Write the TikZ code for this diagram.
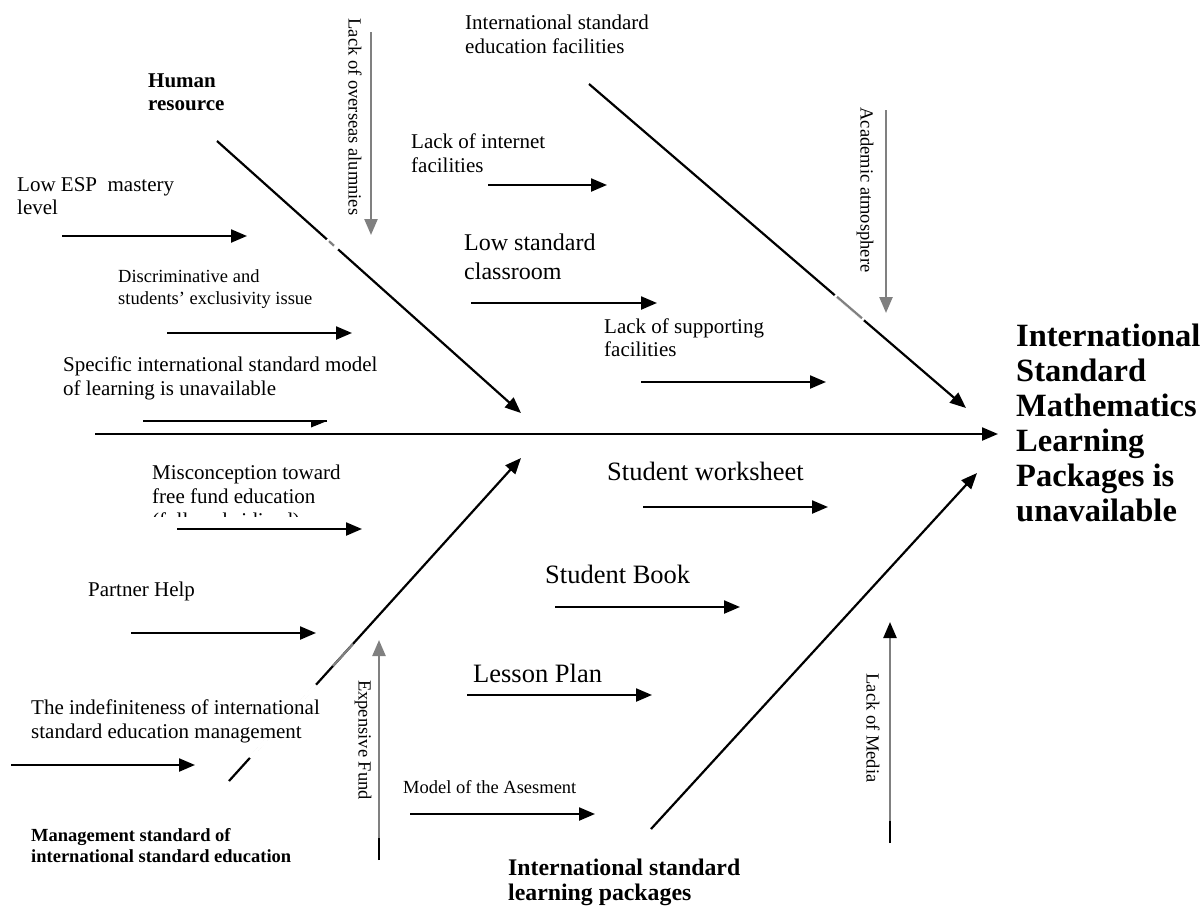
\documentclass[tikz,border=0pt]{standalone}
\usepackage{fontspec}
\setmainfont{Liberation Serif}
\usetikzlibrary{arrows.meta}
\definecolor{gr}{RGB}{128,128,128}
\newcommand\fA{\fontsize{21}{23.5}\selectfont}
\newcommand\fS{\fontsize{18.5}{22}\selectfont}
\newcommand\fL{\fontsize{26.5}{30}\selectfont}
\newcommand\fE{\fontsize{32.5}{35}\selectfont\bfseries}
\tikzset{
  lab/.style={anchor=base west, inner sep=0pt, align=left},
  vlab/.style={inner sep=0pt, rotate=-90, font=\fS},
  arr/.style={line width=2.2pt, -{Triangle[length=16pt,width=13pt]}},
  bone/.style={line width=2.2pt},
  garr/.style={line width=2.4pt, gr, -{Triangle[length=16pt,width=13pt]}},
  gapw/.style={line width=3.4pt, white},
  gapg/.style={line width=2.2pt, gr}
}
\begin{document}
\begin{tikzpicture}[x=1pt,y=-1pt]
\useasboundingbox (0,0) rectangle (1202,906);
% ---------- spine ----------
\coordinate (s0) at (95,434); \coordinate (s1) at (998,434);
\draw[arr] (s0) -- (s1);
% ---------- main bones ----------
\coordinate (hr0) at (217,141); \coordinate (hr1) at (521,413);
\draw[arr] (hr0) -- (hr1);
\coordinate (hrw0) at (327,239.4); \coordinate (hrw1) at (338,249.3);
\draw[gapw] (hrw0) -- (hrw1);
\coordinate (hrg0) at (329,241.2); \coordinate (hrg1) at (334,245.7);
\draw[gapg] (hrg0) -- (hrg1);

\coordinate (fa0) at (589,84); \coordinate (fa1) at (966,408);
\draw[arr] (fa0) -- (fa1);
\coordinate (faw0) at (835,295.1); \coordinate (faw1) at (864,320);
\draw[gapw] (faw0) -- (faw1);
\coordinate (fag0) at (837,296.8); \coordinate (fag1) at (862,318.2);
\draw[gapg] (fag0) -- (fag1);

\coordinate (mg0) at (229,781); \coordinate (mg1) at (521,458);
\draw[arr] (mg0) -- (mg1);
\coordinate (mgw0) at (250,757.8); \coordinate (mgw1) at (316,684.8);
\draw[gapw] (mgw0) -- (mgw1);
\coordinate (mgg0) at (333,666); \coordinate (mgg1) at (353,643.9);
\draw[gapg] (mgg0) -- (mgg1);

\coordinate (lp0) at (651,829); \coordinate (lp1) at (977,473);
\draw[arr] (lp0) -- (lp1);
% ---------- small horizontal arrows ----------
\coordinate (a1) at (62,236);  \coordinate (b1) at (247,236);  \draw[arr] (a1) -- (b1);
\coordinate (a2) at (167,333); \coordinate (b2) at (352,333);  \draw[arr] (a2) -- (b2);
\coordinate (a3) at (143,421); \coordinate (b3) at (327,421);  \draw[bone] (a3) -- (b3);
\fill (311,420) -- (b3) -- (311,427.5) -- cycle;
\coordinate (a4) at (177,529); \coordinate (b4) at (362,529);  \draw[arr] (a4) -- (b4);
\coordinate (a5) at (131,633); \coordinate (b5) at (316,633);  \draw[arr] (a5) -- (b5);
\coordinate (a6) at (11,765);  \coordinate (b6) at (195,765);  \draw[arr] (a6) -- (b6);
\coordinate (a7) at (488,185); \coordinate (b7) at (607,185);  \draw[arr] (a7) -- (b7);
\coordinate (a8) at (471,303); \coordinate (b8) at (657,303);  \draw[arr] (a8) -- (b8);
\coordinate (a9) at (641,382); \coordinate (b9) at (826,382);  \draw[arr] (a9) -- (b9);
\coordinate (a10) at (643,507); \coordinate (b10) at (828,507); \draw[arr] (a10) -- (b10);
\coordinate (a11) at (555,607); \coordinate (b11) at (740,607); \draw[arr] (a11) -- (b11);
\coordinate (a12) at (467,695); \coordinate (b12) at (652,695); \draw[arr] (a12) -- (b12);
\coordinate (a13) at (410,814); \coordinate (b13) at (595,814); \draw[arr] (a13) -- (b13);
% ---------- grey vertical arrows ----------
\coordinate (v1a) at (371,32);  \coordinate (v1b) at (371,235); \draw[garr] (v1a) -- (v1b);
\coordinate (v2a) at (886,110); \coordinate (v2b) at (886,313); \draw[garr] (v2a) -- (v2b);
\coordinate (v3k) at (379,860); \coordinate (v3a) at (379,838); \coordinate (v3b) at (379,640);
\draw[bone] (v3k) -- (v3a); \draw[garr] (v3a) -- (v3b);
\coordinate (v4k) at (890,843); \coordinate (v4a) at (890,821); \coordinate (v4b) at (890,622);
\draw[bone] (v4k) -- (v4a);
\draw[line width=2.4pt, gr, -{Triangle[length=16pt,width=13pt,color=black,fill=black]}] (v4a) -- (v4b);
% ---------- labels (anchor = baseline of the last line) ----------
\node[lab,font={\fontsize{21}{23}\selectfont\bfseries}] (hr) at (148,110) {Human\\resource};
\node[lab,font={\fontsize{21}{23}\selectfont}] (esp) at (17,214) {Low ESP\ \ mastery\\level};
\node[lab,font=\fS] (disc) at (118,304) {Discriminative and\\students’ exclusivity issue};
\node[lab,font={\fontsize{21}{24}\selectfont}] (spec) at (63,395) {Specific international standard model\\of learning is unavailable};
\node[lab,font={\fontsize{21}{24}\selectfont}] (misc) at (152,503) {Misconception toward\\free fund education};
\begin{scope}
\clip (140,505) rectangle (330,516.7);
\node[lab,font=\fA] (miscc) at (152,527) {(fully subsidized)};
\end{scope}
\node[lab,font=\fA] (partner) at (88,596) {Partner Help};
\node[lab,font={\fontsize{21}{24}\selectfont}] (indef) at (31,738) {The indefiniteness of international\\standard education management};
\node[lab,font={\fontsize{18.5}{21}\selectfont\bfseries}] (mgmt) at (31,862) {Management standard of\\international standard education};
\node[lab,font={\fontsize{21}{24}\selectfont}] (isef) at (465,53) {International standard\\education facilities};
\node[lab,font={\fontsize{21}{24}\selectfont}] (lif) at (411,172) {Lack of internet\\facilities};
\node[lab,font={\fontsize{24}{29}\selectfont}] (lsc) at (464,279) {Low standard\\classroom};
\node[lab,font={\fontsize{21}{23}\selectfont}] (lsf) at (604,356) {Lack of supporting\\facilities};
\node[lab,font=\fL] (sw) at (607,480) {Student worksheet};
\node[lab,font=\fL] (sb) at (545,583) {Student Book};
\node[lab,font=\fL] (lp) at (473,682) {Lesson Plan};
\node[lab,font=\fS] (moa) at (403,793) {Model of the Asesment};
\node[lab,font={\fontsize{23.8}{25}\selectfont\bfseries}] (islp) at (508,900) {International standard\\learning packages};
\node[lab,font=\fE] (eff) at (1016,521) {International\\Standard\\Mathematics\\Learning\\Packages is\\unavailable};
\node[vlab] (alum) at (355,117) {Lack of overseas alumnies};
\node[vlab] (acad) at (865,190) {Academic atmosphere};
\node[vlab] (exp) at (363,740) {Expensive Fund};
\node[vlab] (media) at (873,728) {Lack of Media};
\end{tikzpicture}
\end{document}
